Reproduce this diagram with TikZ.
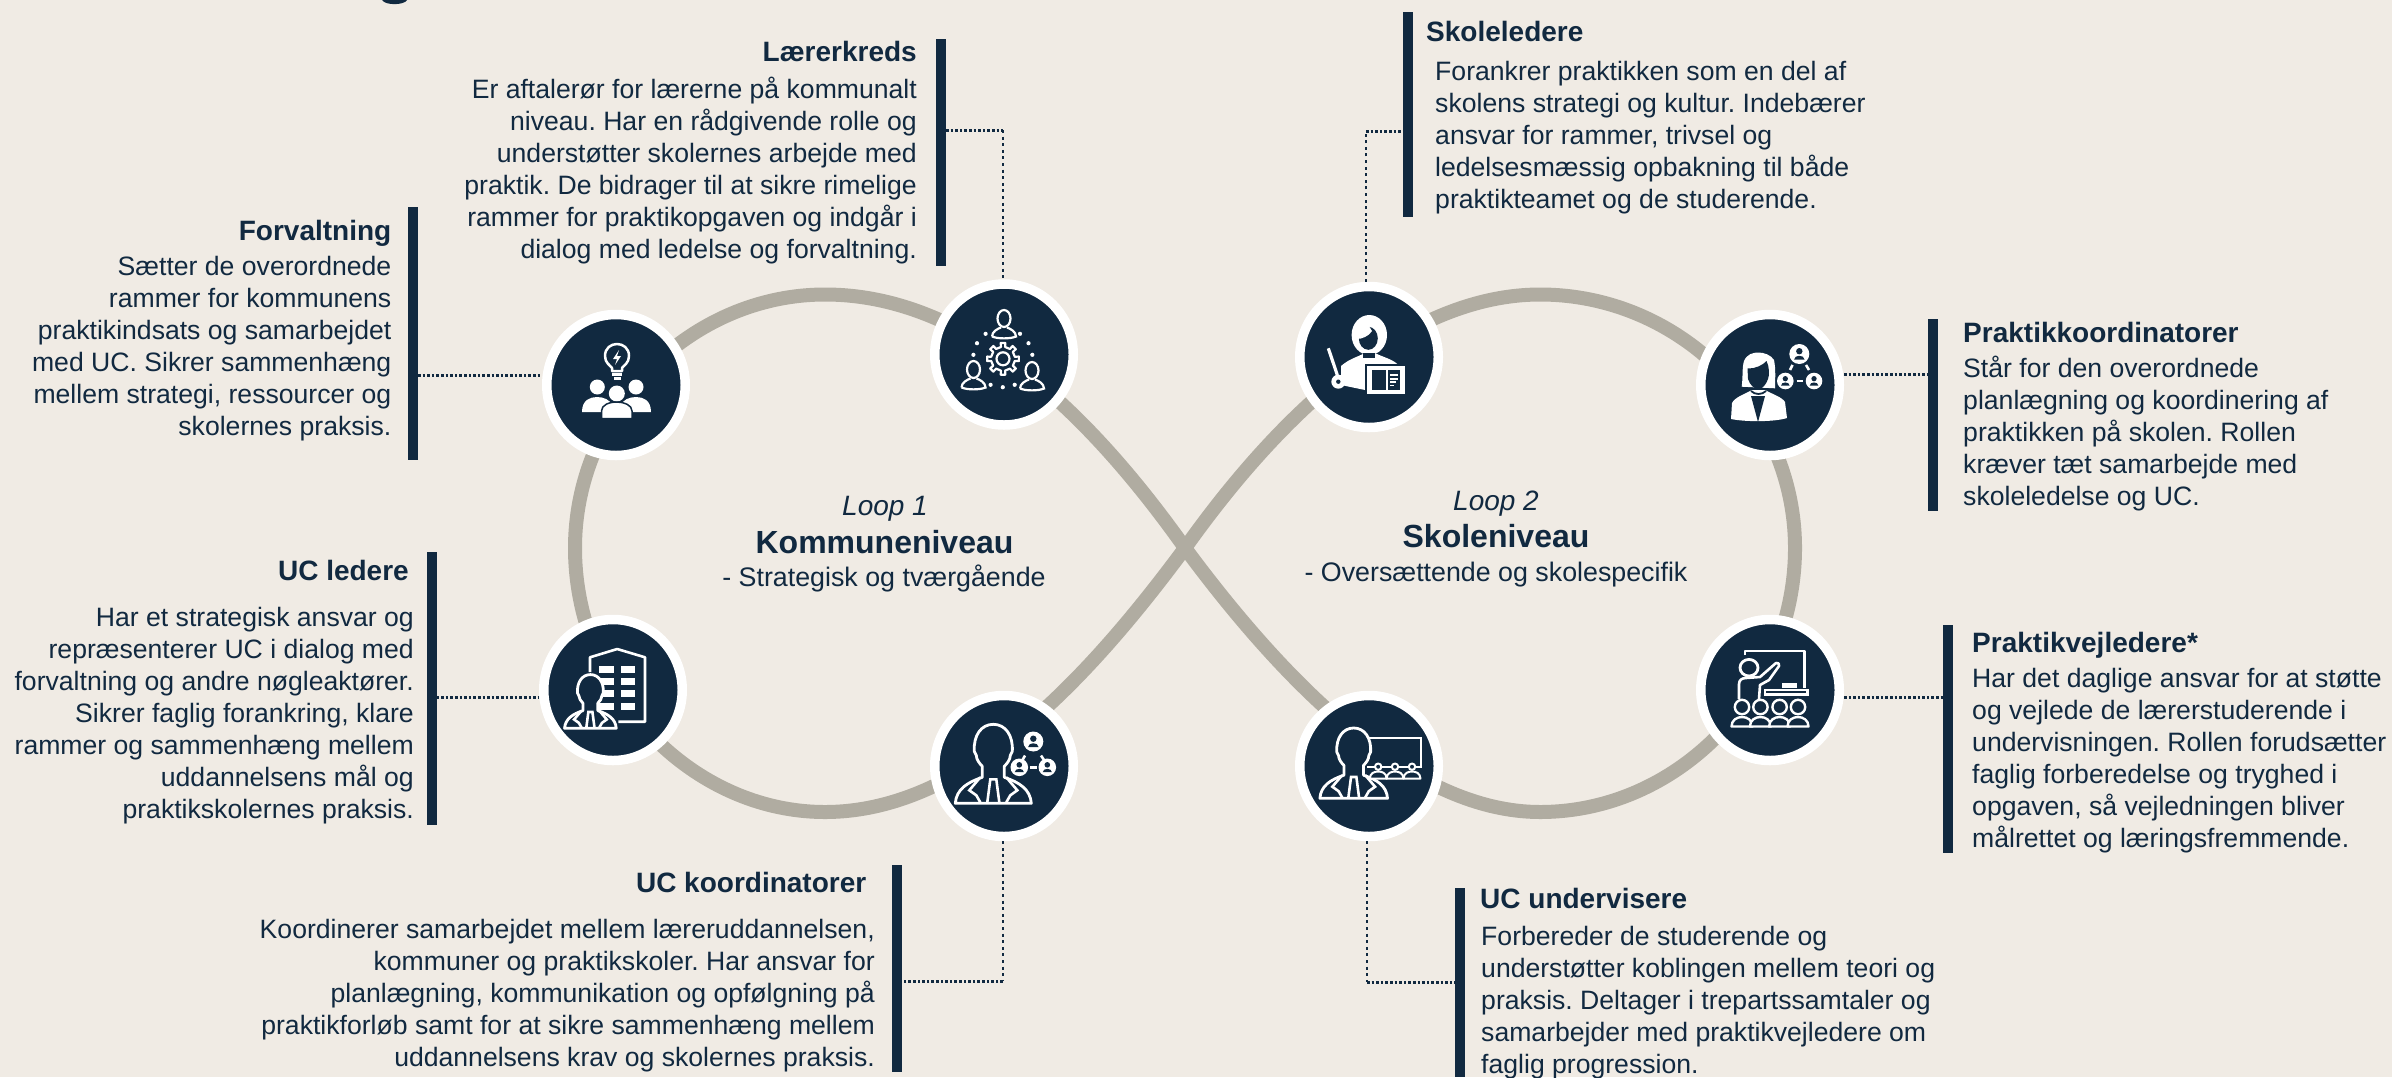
\documentclass[tikz,border=0pt]{standalone}
\usepackage{fontspec}
\setmainfont{Liberation Sans}
\usetikzlibrary{shapes.geometric}
\definecolor{bgc}{RGB}{240,235,228}
\definecolor{navy}{RGB}{17,41,64}
\definecolor{loopc}{RGB}{176,172,161}
\newcommand{\tl}{\rule{0pt}{22pt}}
\newcommand{\bodyfont}{\frenchspacing\fontsize{26.6}{32}\selectfont}
\newcommand{\headfont}{\fontsize{28}{32}\selectfont\bfseries}
\tikzset{
  hub/.style={ellipse,draw=white,fill=navy,line width=9.5pt,minimum width=138.5pt,minimum height=141pt,inner sep=0pt},
  vbar/.style={rectangle,fill=navy,inner sep=0pt,outer sep=0pt,minimum width=10pt},
  txtr/.style={anchor=north east,align=right,inner sep=0pt,text=navy,font=\bodyfont},
  txtl/.style={anchor=north west,align=left,inner sep=0pt,text=navy,font=\bodyfont},
  headr/.style={anchor=base east,inner sep=0pt,text=navy,font=\headfont},
  headl/.style={anchor=base west,inner sep=0pt,text=navy,font=\headfont},
  ctr/.style={anchor=base,inner sep=0pt,text=navy},
  hdots/.style={draw=navy,line width=3pt,dash pattern=on 2.6pt off 2pt},
  vdots/.style={draw=navy,line width=2.8pt,dash pattern=on 3pt off 3.6pt},
  ic/.style={draw=white,line width=2.8pt,fill=navy,line join=round},
  icl/.style={draw=white,line width=2.6pt,line cap=butt},
  pics/bust/.style={code={
    \draw[ic] (-38,0) .. controls (-37,-14) and (-26,-21) .. (-11,-26) -- (-11,-37)
      .. controls (-14,-40) and (-17,-44) .. (-17,-48) -- (-19,-52)
      .. controls (-20,-68) and (-12,-79) .. (0,-79)
      .. controls (12,-79) and (20,-68) .. (19,-52) -- (17,-48)
      .. controls (17,-44) and (14,-40) .. (11,-37) -- (11,-26)
      .. controls (26,-21) and (37,-14) .. (38,0) -- cycle;
    \draw[icl] (-13,-26) -- (-24,-13) -- (-17,-8) -- (-13,-1);
    \draw[icl] (13,-26) -- (24,-13) -- (17,-8) -- (13,-1);
    \draw[icl] (-6,-1) -- (-3,-24) -- (3,-24) -- (6,-1);
  }},
  pics/netp/.style={code={
    \fill[white] (0,0) circle[radius=#1];
    \fill[navy] (0,{-0.28*#1}) circle[radius={0.32*#1}];
    \fill[navy] ({-0.52*#1},{0.55*#1}) .. controls ({-0.5*#1},{0.05*#1}) and ({0.5*#1},{0.05*#1}) .. ({0.52*#1},{0.55*#1}) -- cycle;
  }}
}
\begin{document}
\begin{tikzpicture}[x=1pt,y=-1pt]
\useasboundingbox (0,0) rectangle (2392,1077);
\fill[bgc] (0,0) rectangle (2392,1077);
% remnant of the cropped title
\fill[navy] (382,0) .. controls (385,5.5) and (404,5.5) .. (407,0) -- cycle;
% figure of eight
\draw[loopc,line width=14pt]
  (1185,548) .. controls (1080,400) and (960,294.5) .. (825,294.5)
  .. controls (690,294.5) and (575,410) .. (575,548)
  .. controls (575,690) and (690,812) .. (825,812)
  .. controls (960,812) and (1080,690) .. (1185,548)
  .. controls (1290,400) and (1415,294.5) .. (1540,294.5)
  .. controls (1680,294.5) and (1795,410) .. (1795,548)
  .. controls (1795,690) and (1680,812) .. (1540,812)
  .. controls (1415,812) and (1290,690) .. (1185,548) -- cycle;
% hubs
\node[hub] (nF) at (616,385) {};
\node[hub] (nL) at (1004,354.5) {};
\node[hub] (nU) at (613,690) {};
\node[hub] (nK) at (1004,766) {};
\node[hub] (nS) at (1369,357) {};
\node[hub] (nP) at (1770,385) {};
\node[hub] (nV) at (1770,690) {};
\node[hub] (nD) at (1369,766) {};
% bars
\node[vbar,minimum height=227pt] (bL) at (941,152.5) {};
\node[vbar,minimum height=253pt] (bF) at (413,333.5) {};
\node[vbar,minimum height=273pt] (bU) at (431.5,688.5) {};
\node[vbar,minimum height=207pt] (bK) at (897,968.5) {};
\node[vbar,minimum height=205pt] (bS) at (1408,114.5) {};
\node[vbar,minimum height=192pt] (bP) at (1933,415) {};
\node[vbar,minimum height=228pt] (bV) at (1948,739) {};
\node[vbar,minimum height=189pt] (bD) at (1460,982.5) {};
% connectors
\coordinate (cF) at (419,375.3);
\coordinate (cL) at (1003,130);
\coordinate (cU) at (437,697);
\coordinate (cK) at (1003,981);
\coordinate (cS) at (1366,131);
\coordinate (cP) at (1843,374);
\coordinate (cV) at (1843,697);
\coordinate (cD) at (1367,982);
\draw[hdots] (bF.east |- cF) -- (nF.west |- cF);
\draw[hdots] (bL.east |- cL) -- (cL);
\draw[vdots] (cL) -- (cL |- nL.north);
\draw[hdots] (bU.east |- cU) -- (nU.west |- cU);
\draw[vdots] (cK |- nK.south) -- (cK);
\draw[hdots] (cK) -- (bK.east |- cK);
\draw[vdots] (cS |- nS.north) -- (cS);
\draw[hdots] (cS) -- (bS.west |- cS);
\draw[hdots] (nP.east |- cP) -- (bP.west |- cP);
\draw[hdots] (nV.east |- cV) -- (bV.west |- cV);
\draw[vdots] (cD |- nD.south) -- (cD);
\draw[hdots] (cD) -- (bD.west |- cD);
% texts
\node[headr] (hL) at (917,61) {Lærerkreds};
\node[txtr] (tL) at (917,76.5) {\tl Er aftalerør for lærerne på kommunalt\\niveau. Har en rådgivende rolle og\\understøtter skolernes arbejde med\\praktik. De bidrager til at sikre rimelige\\rammer for praktikopgaven og indgår i\\dialog med ledelse og forvaltning.};
\node[headr] (hF) at (391.5,240) {Forvaltning};
\node[txtr] (tF) at (391.5,253.5) {\tl Sætter de overordnede\\rammer for kommunens\\praktikindsats og samarbejdet\\med UC. Sikrer sammenhæng\\mellem strategi, ressourcer og\\skolernes praksis.};
\node[headr] (hU) at (409,580) {UC ledere};
\node[txtr] (tU) at (414,604.5) {\tl Har et strategisk ansvar og\\repræsenterer UC i dialog med\\forvaltning og andre nøgleaktører.\\Sikrer faglig forankring, klare\\rammer og sammenhæng mellem\\uddannelsens mål og\\praktikskolernes praksis.};
\node[headr] (hK) at (866.5,892) {UC koordinatorer};
\node[txtr] (tK) at (875,916.5) {\tl Koordinerer samarbejdet mellem læreruddannelsen,\\kommuner og praktikskoler. Har ansvar for\\planlægning, kommunikation og opfølgning på\\praktikforløb samt for at sikre sammenhæng mellem\\uddannelsens krav og skolernes praksis.};
\node[headl] (hS) at (1426,41) {Skoleledere};
\node[txtl] (tS) at (1435,58.5) {\tl Forankrer praktikken som en del af\\skolens strategi og kultur. Indebærer\\ansvar for rammer, trivsel og\\ledelsesmæssig opbakning til både\\praktikteamet og de studerende.};
\node[headl] (hP) at (1963,342.5) {Praktikkoordinatorer};
\node[txtl] (tP) at (1963,355.5) {\tl Står for den overordnede\\planlægning og koordinering af\\praktikken på skolen. Rollen\\kræver tæt samarbejde med\\skoleledelse og UC.};
\node[headl] (hV) at (1972,652) {Praktikvejledere*};
\node[txtl] (tV) at (1972,665.5) {\tl Har det daglige ansvar for at støtte\\og vejlede de lærerstuderende i\\undervisningen. Rollen forudsætter\\faglig forberedelse og tryghed i\\opgaven, så vejledningen bliver\\målrettet og læringsfremmende.};
\node[headl] (hD) at (1480,908) {UC undervisere};
\node[txtl] (tD) at (1481,923.5) {\tl Forbereder de studerende og\\understøtter koblingen mellem teori og\\praksis. Deltager i trepartssamtaler og\\samarbejder med praktikvejledere om\\faglig progression.};
% centre labels
\node[ctr,font=\fontsize{28}{32}\selectfont\itshape] (l1) at (885,515) {Loop 1};
\node[ctr,font=\fontsize{32}{36}\selectfont\bfseries] (k1) at (884.5,553) {Kommuneniveau};
\node[ctr,font=\fontsize{26.8}{32}\selectfont] (s1) at (884,586) {- Strategisk og tværgående};
\node[ctr,font=\fontsize{28}{32}\selectfont\itshape] (l2) at (1496,510) {Loop 2};
\node[ctr,font=\fontsize{32}{36}\selectfont\bfseries] (k2) at (1496,547) {Skoleniveau};
\node[ctr,font=\fontsize{26.8}{32}\selectfont] (s2) at (1496,581) {- Oversættende og skolespecifik};
% ---- icons ----
% Forvaltning: bulb and three people
\begin{scope}[shift={(nF.center)}]
  \draw[white,line width=2.5pt,line join=round] (-4,-14) -- (-4,-17) .. controls (-6,-20) and (-11,-22) .. (-11,-29) .. controls (-11,-45) and (13,-45) .. (13,-29) .. controls (13,-22) and (8,-20) .. (6,-17) -- (6,-14) -- cycle;
  \fill[white] (-4,-12) rectangle (6,-9.5);
  \fill[white] (-2.5,-8) rectangle (4.5,-5.5);
  \fill[white] (3,-35) -- (-3,-26) -- (1,-26) -- (-1,-20) -- (5,-29) -- (1,-29) -- cycle;
  \fill[white] (-18.7,2) circle[radius=7.5];
  \fill[white] (20,2) circle[radius=7.5];
  \fill[white] (-34,27) .. controls (-34,15) and (-26,12) .. (-19,12) .. controls (-12,12) and (-6,15) .. (-4,20) -- (-10,27) -- cycle;
  \fill[white] (35,27) .. controls (35,15) and (27,12) .. (20,12) .. controls (13,12) and (7,15) .. (5,20) -- (11,27) -- cycle;
  \fill[white] (0.8,8.5) circle[radius=8];
  \draw[navy,line width=1.5pt,fill=white] (-14.5,33.5) -- (-14.5,26) .. controls (-14.5,20) and (-7,17) .. (0.8,17) .. controls (8,17) and (16,20) .. (16,26) -- (16,33.5) -- cycle;
\end{scope}
% Laererkreds: three people, gear, dots
\begin{scope}[shift={(nL.center)}]
  \draw[white,line width=2.2pt] (0,-36) ellipse[x radius=6.5,y radius=8.5];
  \draw[white,line width=2.2pt] (-12,-18) .. controls (-12,-23) and (-6,-26) .. (-3,-27) (3,-27) .. controls (6,-26) and (12,-23) .. (12,-18) .. controls (6,-15.5) and (-6,-15.5) .. (-12,-18);
  \draw[white,line width=2.2pt] (-30.5,15) ellipse[x radius=6.5,y radius=8.5];
  \draw[white,line width=2.2pt] (-42.5,33) .. controls (-42.5,28) and (-36.5,25) .. (-33.5,24) (-27.5,24) .. controls (-24.5,25) and (-18.5,28) .. (-18.5,33) .. controls (-24.5,35.5) and (-36.5,35.5) .. (-42.5,33);
  \draw[white,line width=2.2pt] (28,16) ellipse[x radius=6.5,y radius=8.5];
  \draw[white,line width=2.2pt] (16,34) .. controls (16,29) and (22,26) .. (25,25) (31,25) .. controls (34,26) and (40,29) .. (40,34) .. controls (34,36.5) and (22,36.5) .. (16,34);
  \begin{scope}[shift={(-1,4.3)}]
    \draw[white,line width=2.2pt,line join=round] (-9:12) foreach \a in {0,45,...,315} { -- ({\a-10}:12) -- ({\a-8}:16) -- ({\a+8}:16) -- ({\a+10}:12) } -- cycle;
    \draw[white,line width=2.2pt] (0,0) circle[radius=6.5];
  \end{scope}
  \foreach \p in {(-18.4,-20.7),(16,-20.7),(-27,-11.3),(24.5,-11.3),(-30.6,0.3),(28.3,0.3),(-13.4,30.3),(-1.2,32.7),(10.7,30.3)}
    \fill[white] \p circle[radius=2.1];
\end{scope}
% UC ledere: building and person
\begin{scope}[shift={(nU.center)}]
  \draw[white,line width=2.6pt,line join=round] (-23,-18) -- (-23,-32.7) -- (4.2,-41) -- (32,-32.7) -- (32,31.7) -- (5.4,31.7);
  \foreach \y in {-21,-8.7,3.7,16} {
    \fill[white] (-14,{\y-3.5}) rectangle (0.8,{\y+3.5});
    \fill[white] (8,{\y-3.5}) rectangle (22,{\y+3.5});
  }
  \pic[scale=.68] at (-22.6,38.3) {bust};
\end{scope}
% UC koordinatorer: person and network
\begin{scope}[shift={(nK.center)}]
  \pic at (-10.7,37.3) {bust};
  \pic at (29.3,-24.5) {netp=10};
  \pic at (15.3,1.3) {netp=8.8};
  \pic at (43.3,1.3) {netp=8.8};
  \draw[icl] (21,-10.5) -- (18.5,-6);
  \draw[icl] (37,-10.5) -- (40,-6);
  \draw[icl] (26,1.3) -- (33,1.3);
\end{scope}
% Skoleledere: teacher with pointer and book
\begin{scope}[shift={(nS.center)}]
  \fill[white] (0.3,-22) ellipse[x radius=17.7,y radius=20];
  \fill[white] (-28,9) .. controls (-20,2) and (-12,0) .. (-6,-3) -- (8,-3) .. controls (14,0) and (26,3) .. (30,9) -- (30,32) -- (-4,32) -- (-4,33) -- (-28,28) -- cycle;
  \fill[navy] (-0.7,-18.7) ellipse[x radius=9.5,y radius=11.5];
  \fill[white] (-12,-18) .. controls (-7,-18) and (0,-21) .. (3,-26) -- (-2,-34) -- (-14,-28) -- cycle;
  \fill[navy] (-6,-4.5) rectangle (6,1);
  \draw[white,line width=3.2pt] (-40.7,-8.7) -- (-31.7,18);
  \fill[white] (-30.7,24.7) circle[radius=7];
  \fill[navy] (-30.7,24.7) circle[radius=2.2];
  \draw[navy,line width=2pt,fill=white] (-3,7.5) rectangle (36.5,37.5);
  \fill[navy] (2.5,13) rectangle (17,32.5);
  \fill[navy] (19,13) rectangle (31,32.5);
  \fill[white] (21,17) rectangle (29,19);
  \fill[white] (21,20.5) rectangle (29,22.5);
  \fill[white] (21,24) rectangle (27,26);
  \fill[white] (21,27.5) rectangle (25,29);
\end{scope}
% Praktikkoordinatorer: woman and network
\begin{scope}[shift={(nP.center)}]
  \fill[white] (-39,34) -- (-38,18) .. controls (-35,12) and (-25,9) .. (-18,5) -- (-5,5) .. controls (2,9) and (12,12) .. (15,17) -- (17,33) .. controls (5,37) and (-25,37) .. (-39,34) -- cycle;
  \fill[white] (-28.3,1.7) .. controls (-27,-8) and (-28,-18) .. (-26,-24) .. controls (-23,-31) and (-17,-32.5) .. (-11.7,-32.5) .. controls (-6,-32.5) and (1,-30) .. (4,-25) .. controls (6,-15) and (5,-5) .. (5,3.3) -- cycle;
  \fill[navy] (-22.5,-16.5) .. controls (-15,-16) and (-7,-20) .. (-3.5,-24) .. controls (-0.5,-18) and (-0.5,-10) .. (-2,-6) .. controls (-4,0) and (-8,4) .. (-11.7,4) .. controls (-16,4) and (-20,0) .. (-22,-6) -- cycle;
  \draw[navy,line width=1.8pt] (-19,6) .. controls (-15,10) and (-8,10) .. (-4,6);
  \fill[navy] (-19,11) -- (-5,11) -- (-12,37) -- cycle;
  \pic at (29.3,-31) {netp=10};
  \pic at (15.3,-4) {netp=8.3};
  \pic at (44,-4) {netp=8.3};
  \draw[icl] (20,-15) -- (22.5,-20);
  \draw[icl] (36,-20) -- (39,-15);
  \draw[icl] (26.5,-4) -- (33,-4);
\end{scope}
% Praktikvejledere: board, teacher, students
\begin{scope}[shift={(nV.center)}]
  \draw[icl,line join=round] (-25,-35) -- (-25,-39) -- (34.4,-39) -- (34.4,-2);
  \draw[ic] (-21,-22.3) ellipse[x radius=9,y radius=8.3];
  \draw[white,line width=2.6pt,line join=round] (-31,9) -- (-31,-6) .. controls (-31,-10) and (-28,-12) .. (-24,-12) -- (-10,-13) -- (6,-27) .. controls (8,-28) and (10,-26) .. (9,-24) -- (-1,-10) -- (-10,-5) -- (-11,9);
  \fill[white] (12,-6.7) rectangle (27,-1.7);
  \fill[white] (-6.5,-0.7) rectangle (38.5,6);
  \fill[navy] (-4,1.2) rectangle (36,3);
  \foreach \x in {-28,-9.6,9.6,28} {
    \draw[ic,line width=2.4pt] (\x-10.5,36.5) .. controls (\x-10.5,30) and (\x-5,27) .. (\x,27) .. controls (\x+5,27) and (\x+10.5,30) .. (\x+10.5,36.5) -- cycle;
    \draw[ic,line width=2.4pt] (\x,17) circle[radius=7.2];
  }
\end{scope}
% UC undervisere: person, screen, students
\begin{scope}[shift={(nD.center)}]
  \draw[white,line width=2.2pt] (-4,-27.7) -- (52,-27.7) -- (52,0.7) -- (-2,0.7);
  \pic[scale=.89] at (-15.3,32.3) {bust};
  \foreach \x in {9.2,26,43} {
    \draw[ic,line width=2pt] (\x-8.5,12.5) .. controls (\x-8,7) and (\x-4,5.5) .. (\x,5.5) .. controls (\x+4,5.5) and (\x+8,7) .. (\x+8.5,12.5) -- cycle;
    \draw[ic,line width=2pt] (\x,0.7) circle[radius=3.2];
  }
\end{scope}
\end{tikzpicture}
\end{document}
